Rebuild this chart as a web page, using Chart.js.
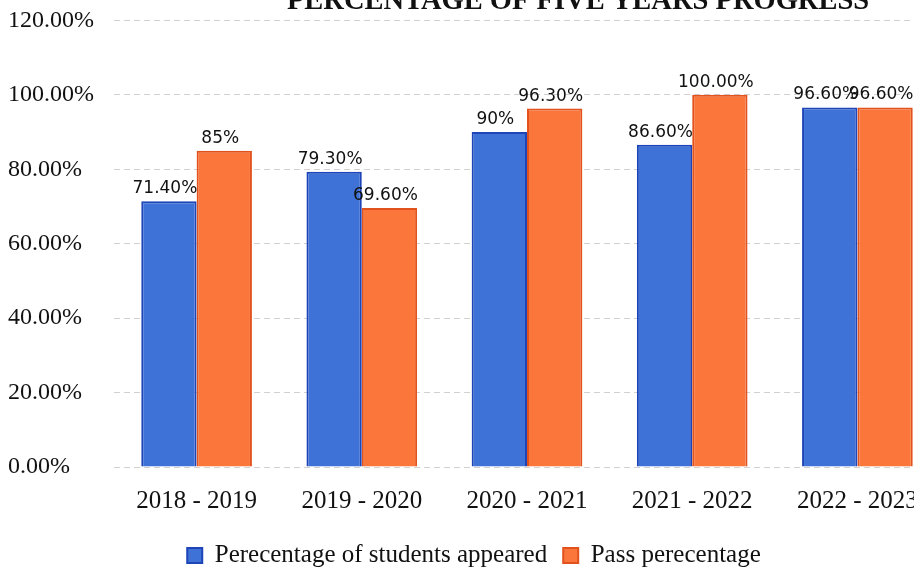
<!DOCTYPE html>
<html>
<head>
<meta charset="utf-8">
<script src="https://cdn.jsdelivr.net/npm/chart.js@4"></script>
<style>
  html, body { margin: 0; padding: 0; background: #fff; overflow: hidden; }
  #wrap { position: relative; width: 914px; height: 571px; overflow: hidden; }
  canvas { position: absolute; left: 0; top: -4px; }
</style>
</head>
<body>
<div id="wrap"><canvas id="progress-chart" width="940" height="582"></canvas></div>
<script>
const years = ['2018 - 2019', '2019 - 2020', '2020 - 2021', '2021 - 2022', '2022 - 2023'];
const appeared = [71.4, 79.3, 90, 86.6, 96.6];
const passed = [85, 69.6, 96.3, 100, 96.6];
const appearedLabels = ['71.40%', '79.30%', '90%', '86.60%', '96.60%'];
const passedLabels = ['85%', '69.60%', '96.30%', '100.00%', '96.60%'];
const chartTitle = 'PERCENTAGE OF FIVE YEARS PROGRESS';

// value labels above each bar
const barLabels = {
    id: 'barLabels',
    afterDatasetsDraw(chart) {
        const ctx = chart.ctx;
        ctx.save();
        ctx.font = '17px "DejaVu Sans"';
        ctx.fillStyle = '#111';
        ctx.textAlign = 'center';
        ctx.textBaseline = 'bottom';
        chart.data.datasets.forEach((ds, i) => {
            chart.getDatasetMeta(i).data.forEach((bar, j) => {
                ctx.fillText(ds.valueLabels[j], bar.x - 4, bar.y - 4);
            });
        });
        ctx.restore();
    }
};

// title sits partly above the photo edge
const topTitle = {
    id: 'topTitle',
    afterDraw(chart) {
        const ctx = chart.ctx;
        ctx.save();
        ctx.font = 'bold 28.5px "Liberation Serif"';
        ctx.fillStyle = '#111';
        ctx.textAlign = 'center';
        ctx.textBaseline = 'alphabetic';
        ctx.fillText(chartTitle, 578, 13);
        ctx.restore();
    }
};

new Chart(document.getElementById('progress-chart'), {
    type: 'bar',
    data: {
        labels: years,
        datasets: [
            {
                label: 'Perecentage of students appeared',
                data: appeared,
                valueLabels: appearedLabels,
                backgroundColor: '#3f72d6',
                borderColor: '#1d45b8',
                borderWidth: 2
            },
            {
                label: 'Pass perecentage',
                data: passed,
                valueLabels: passedLabels,
                backgroundColor: '#fb763a',
                borderColor: '#e2521c',
                borderWidth: 2
            }
        ]
    },
    plugins: [barLabels, topTitle],
    options: {
        responsive: false,
        devicePixelRatio: 1,
        animation: false,
        categoryPercentage: 0.67,
        barPercentage: 1,
        layout: { padding: { left: 8, top: 8, right: 0, bottom: 0 } },
        plugins: {
            title: { display: false },
            tooltip: { enabled: false },
            legend: {
                position: 'bottom',
                labels: {
                    color: '#111',
                    font: { family: '"Liberation Serif"', size: 25 },
                    boxWidth: 15,
                    boxHeight: 15,
                    padding: 16
                }
            }
        },
        scales: {
            x: {
                grid: { display: false },
                border: { display: false },
                ticks: {
                    color: '#111',
                    font: { family: '"Liberation Serif"', size: 25 },
                    padding: 11
                }
            },
            y: {
                min: 0,
                max: 120,
                border: { display: false, dash: [6, 4] },
                grid: { color: '#d4d0d0', lineWidth: 1, drawTicks: false },
                ticks: {
                    stepSize: 20,
                    color: '#111',
                    crossAlign: 'far',
                    padding: 10,
                    font: { family: '"Liberation Serif"', size: 24 },
                    callback: v => v.toFixed(2) + '%'
                }
            }
        }
    }
});
</script>
</body>
</html>
